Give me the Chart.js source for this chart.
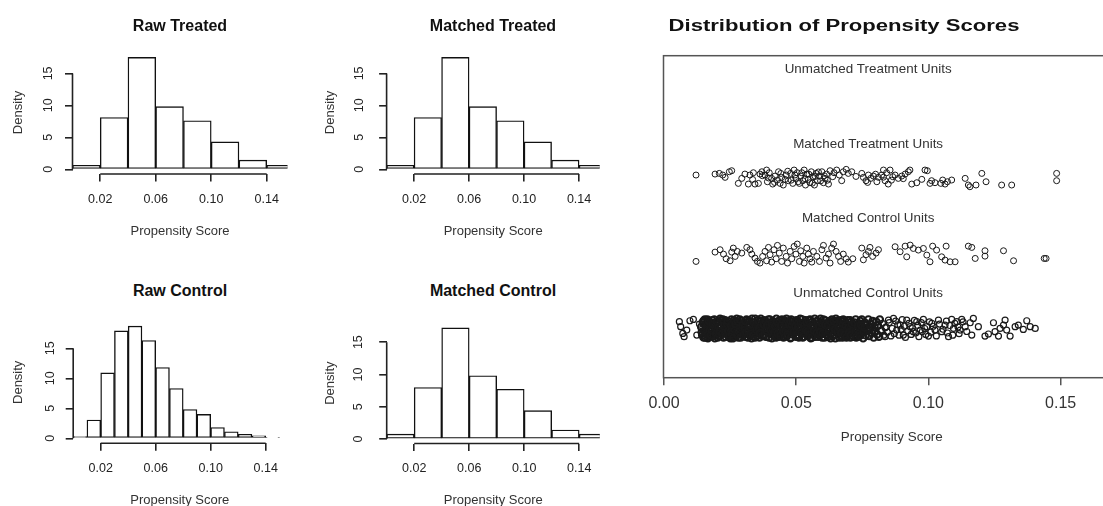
<!DOCTYPE html>
<html>
<head>
<meta charset="utf-8">
<title>Propensity score diagnostics</title>
<script src="https://cdn.jsdelivr.net/npm/chart.js@4.4.1/dist/chart.umd.min.js"></script>
<style>
  html, body { margin: 0; padding: 0; background: #fff; }
  body { position: relative; width: 1103px; height: 506px; overflow: hidden; }
  canvas { position: absolute; }
  .main { position: absolute; transform: translate(-50%, -50%); white-space: nowrap;
          font: bold 16px "Liberation Sans", Arial, sans-serif; color: #111; }
  .wide { transform: translate(-50%, -50%) scaleX(1.38); }
</style>
</head>
<body>
<canvas id="rawTreated"></canvas>
<canvas id="matchedTreated"></canvas>
<canvas id="rawControl"></canvas>
<canvas id="matchedControl"></canvas>
<canvas id="jitter"></canvas>
<div class="main" style="left:180px;top:26px">Raw Treated</div>
<div class="main" style="left:493px;top:26px">Matched Treated</div>
<div class="main" style="left:180px;top:291px">Raw Control</div>
<div class="main" style="left:493px;top:291px">Matched Control</div>
<div class="main wide" style="left:844px;top:26px">Distribution of Propensity Scores</div>
<script>
Chart.defaults.font.family = '"Liberation Sans", Arial, sans-serif';
Chart.defaults.color = '#222';

// histogram bin centres and densities
const treatedBins = [0.01, 0.03, 0.05, 0.07, 0.09, 0.11, 0.13, 0.15];
const rawTreatedDensity = [0.63, 8.1, 17.5, 9.8, 7.6, 4.3, 1.45, 0.63];
const matchedTreatedDensity = [0.63, 8.1, 17.5, 9.8, 7.6, 4.3, 1.45, 0.63];
const controlBins = [0.005, 0.015, 0.025, 0.035, 0.045, 0.055, 0.065, 0.075, 0.085, 0.095, 0.105, 0.115, 0.125, 0.135, 0.145];
const rawControlDensity = [0.3, 3.05, 10.9, 17.9, 18.7, 16.3, 11.8, 8.3, 4.8, 4.0, 1.8, 1.1, 0.67, 0.4, 0.17];
const matchedControlBins = [0.01, 0.03, 0.05, 0.07, 0.09, 0.11, 0.13, 0.15];
const matchedControlDensity = [0.77, 7.97, 17.2, 9.8, 7.7, 4.4, 1.4, 0.77];

const histXTicks = [0.02, 0.06, 0.10, 0.14];
const histYTicks = [0, 5, 10, 15];
const jitterXTicks = [0, 0.05, 0.10, 0.15];

const groupLabels = ['Unmatched Treatment Units', 'Matched Treatment Units', 'Matched Control Units', 'Unmatched Control Units'];
const groupLabelY = [4.5, 3.5, 2.5, 1.5];
const groupLabelX = 0.0772;

// jittered points: [propensity score, jittered row position]
const matchedTreated = [
  [0.0121,3.059],[0.0193,3.072],[0.0209,3.081],[0.0222,3.059],[0.0231,3.028],[0.0247,3.103],[0.0256,3.117],[0.0281,2.947],
  [0.0294,3.014],[0.0306,3.072],[0.0319,2.938],[0.0325,3.059],[0.0338,3.090],[0.0344,2.938],[0.0357,2.947],[0.0363,3.072],
  [0.0370,3.103],[0.0382,3.059],[0.0388,3.126],[0.0391,2.969],[0.0398,3.090],[0.0407,3.014],[0.0411,2.938],[0.0420,3.045],
  [0.0429,2.992],[0.0433,3.103],[0.0439,2.947],[0.0445,3.028],[0.0451,2.925],[0.0462,3.059],[0.0470,2.983],[0.0479,3.081],
  [0.0487,2.947],[0.0492,3.126],[0.0499,3.014],[0.0504,3.090],[0.0512,2.947],[0.0517,3.045],[0.0525,2.983],[0.0530,3.126],
  [0.0535,2.925],[0.0540,3.072],[0.0546,3.001],[0.0552,2.956],[0.0557,3.103],[0.0563,3.037],[0.0569,2.925],[0.0575,3.081],
  [0.0580,2.983],[0.0588,3.045],[0.0597,3.103],[0.0603,2.956],[0.0609,3.014],[0.0615,3.072],[0.0622,2.938],[0.0628,3.117],
  [0.0638,3.037],[0.0643,3.090],[0.0653,3.126],[0.0663,3.059],[0.0672,2.983],[0.0678,3.103],[0.0689,3.135],[0.0697,3.081],
  [0.0710,3.103],[0.0748,3.081],[0.0754,3.028],[0.0764,2.983],[0.0773,3.059],[0.0782,3.014],[0.0792,3.045],[0.0805,2.969],
  [0.0811,3.028],[0.0823,3.059],[0.0830,3.126],[0.0836,2.983],[0.0842,3.090],[0.0848,2.938],[0.0855,3.126],[0.0865,3.037],
  [0.0874,3.059],[0.0886,3.014],[0.0899,3.045],[0.0912,3.072],[0.0924,3.103],[0.0930,3.126],[0.0937,2.938],[0.0956,2.956],
  [0.0975,3.001],[0.0987,3.126],[0.0996,3.117],[0.1006,2.947],[0.1012,2.983],[0.1025,2.956],[0.1047,2.947],[0.1054,2.992],
  [0.1063,2.938],[0.1072,2.969],[0.1088,2.992],[0.1139,3.014],[0.1151,2.925],[0.1157,2.902],[0.1180,2.925],[0.1202,3.081],
  [0.1218,2.969],[0.1277,2.925],[0.1315,2.925],[0.1485,3.081],[0.1485,2.983],
  [0.0335,3.000],[0.0372,3.050],[0.0395,3.020],[0.0418,2.960],[0.0442,3.080],[0.0458,3.000],[0.0468,3.110],[0.0481,2.990],
  [0.0495,3.060],[0.0508,2.970],[0.0521,3.090],[0.0533,3.010],[0.0548,3.070],[0.0561,2.950],[0.0572,3.040],[0.0584,3.100],
  [0.0592,2.980],[0.0606,3.050],[0.0618,2.990],[0.0726,3.040],[0.0770,2.960],[0.0800,3.070],[0.0830,3.030],[0.0860,2.990],
  [0.0905,3.010]
];

const matchedControl = [
  [0.0121,1.900],[0.0193,2.025],[0.0212,2.057],[0.0225,1.998],[0.0235,1.936],[0.0250,1.909],[0.0256,2.025],[0.0262,2.079],
  [0.0269,1.967],[0.0277,2.034],[0.0294,2.012],[0.0313,2.088],[0.0325,2.057],[0.0332,1.998],[0.0344,1.945],[0.0353,1.900],
  [0.0363,1.878],[0.0373,1.967],[0.0382,2.034],[0.0388,1.909],[0.0395,2.088],[0.0401,1.990],[0.0407,1.891],[0.0416,2.057],
  [0.0424,1.936],[0.0429,2.115],[0.0436,2.012],[0.0445,1.900],[0.0451,2.079],[0.0462,1.967],[0.0467,1.878],[0.0477,2.034],
  [0.0483,1.936],[0.0492,2.101],[0.0499,1.998],[0.0504,2.133],[0.0512,1.900],[0.0517,2.043],[0.0525,1.967],[0.0530,1.878],
  [0.0540,2.079],[0.0546,1.998],[0.0552,1.936],[0.0559,1.891],[0.0565,2.034],[0.0578,1.967],[0.0588,1.900],[0.0597,2.057],
  [0.0603,2.115],[0.0613,1.945],[0.0622,1.998],[0.0628,1.878],[0.0634,2.079],[0.0641,2.133],[0.0651,2.034],[0.0660,1.967],
  [0.0668,1.900],[0.0678,1.998],[0.0689,1.936],[0.0697,1.891],[0.0714,1.936],[0.0748,2.079],[0.0754,1.922],[0.0764,1.990],
  [0.0773,2.034],[0.0779,2.088],[0.0789,1.967],[0.0802,2.012],[0.0811,2.057],[0.0874,2.097],[0.0893,2.030],[0.0912,2.105],
  [0.0918,1.962],[0.0931,2.119],[0.0943,2.074],[0.0962,2.052],[0.0981,2.074],[0.0994,1.985],[0.1006,1.895],[0.1016,2.105],
  [0.1031,2.052],[0.1050,1.962],[0.1063,1.918],[0.1067,2.105],[0.1082,1.895],[0.1101,1.895],[0.1151,2.105],[0.1164,2.088],
  [0.1177,1.940],[0.1214,2.043],[0.1214,1.971],[0.1284,2.043],[0.1322,1.909],[0.1438,1.940],[0.1445,1.940]
];

const unmatchedControl = [
  [0.0058,1.091],[0.0063,1.024],[0.0071,0.934],[0.0076,0.890],[0.0086,0.979],[0.0098,1.104],[0.0111,1.122],[0.0124,0.912],[0.0134,1.059],
  [0.0141,1.02],[0.0145,0.91],[0.0149,1.10],[0.0152,0.97],[0.0156,0.88],[0.0159,1.06],
  [0.0161,0.94],[0.0164,1.12],[0.0168,1.00],[0.0171,0.89],[0.0175,1.07],[0.0178,0.96],
  [0.0182,1.11],[0.0185,0.92],[0.0188,1.03],[0.0192,0.87],[0.0195,0.99],[0.0198,1.09],
  [0.0201,0.95],[0.0204,1.05],[0.0208,0.90],[0.0212,1.13],[0.0215,1.01],[0.0218,0.93],
  [0.0221,1.08],[0.0225,0.88],[0.0228,0.98],[0.0231,1.11],[0.0235,0.94],[0.0238,1.04],
  [0.0241,0.91],[0.0244,1.06],[0.0248,1.00],[0.0251,0.87],[0.0255,1.12],[0.0258,0.96],
  [0.0262,1.03],[0.0265,0.90],[0.0268,1.09],[0.0272,0.95],[0.0275,1.13],[0.0279,0.99],
  [0.0281,0.88],[0.0285,1.05],[0.0288,0.93],[0.0292,1.10],[0.0295,1.01],[0.0298,0.92],
  [0.0302,1.07],[0.0305,0.97],[0.0308,0.89],[0.0312,1.12],[0.0315,1.02],[0.0319,0.94],
  [0.0321,1.10],[0.0324,0.91],[0.0328,1.04],[0.0331,0.87],[0.0335,0.99],[0.0338,1.08],
  [0.0342,0.95],[0.0345,1.13],[0.0348,1.01],[0.0352,0.90],[0.0355,1.06],[0.0359,0.97],
  [0.0361,0.88],[0.0364,1.09],[0.0368,0.96],[0.0371,1.03],[0.0375,0.92],[0.0378,1.11],
  [0.0382,1.00],[0.0385,0.89],[0.0388,1.07],[0.0392,0.94],[0.0395,1.12],[0.0399,1.02],
  [0.0401,0.93],[0.0405,1.05],[0.0408,0.87],[0.0411,1.10],[0.0415,0.98],[0.0418,1.04],
  [0.0422,0.91],[0.0425,1.13],[0.0428,0.99],[0.0432,1.06],[0.0435,0.89],[0.0439,0.96],
  [0.0441,1.08],[0.0444,0.94],[0.0448,1.02],[0.0452,0.88],[0.0455,1.11],[0.0458,0.97],
  [0.0462,1.04],[0.0465,0.90],[0.0468,1.09],[0.0471,0.95],[0.0475,1.00],[0.0478,0.87],
  [0.0481,1.12],[0.0485,0.98],[0.0488,0.92],[0.0492,1.06],[0.0495,1.01],[0.0499,0.89],
  [0.0502,0.96],[0.0505,1.10],[0.0509,0.91],[0.0512,1.03],[0.0515,1.13],[0.0518,0.94],
  [0.0521,1.07],[0.0525,0.88],[0.0528,1.00],[0.0532,0.95],[0.0535,1.11],[0.0538,1.02],
  [0.0542,0.90],[0.0545,1.05],[0.0549,0.97],[0.0552,1.12],[0.0555,0.87],[0.0559,1.01],
  [0.0561,1.09],[0.0565,0.93],[0.0568,1.04],[0.0572,0.89],[0.0575,0.99],[0.0578,1.10],
  [0.0582,0.95],[0.0585,1.06],[0.0588,0.91],[0.0592,1.13],[0.0595,1.00],[0.0598,0.88],
  [0.0602,1.03],[0.0605,0.96],[0.0609,1.11],[0.0612,0.92],[0.0615,1.07],[0.0619,0.98],
  [0.0621,0.89],[0.0625,1.08],[0.0628,1.01],[0.0632,0.94],[0.0635,1.12],[0.0638,0.90],
  [0.0642,1.05],[0.0645,0.97],[0.0648,0.87],[0.0652,1.10],[0.0655,1.02],[0.0659,0.93],
  [0.0661,1.09],[0.0665,0.91],[0.0668,1.04],[0.0672,0.99],[0.0675,0.88],[0.0678,1.12],
  [0.0682,0.95],[0.0685,1.07],[0.0689,1.00],[0.0692,0.90],[0.0695,1.11],[0.0698,0.97],
  [0.0702,1.03],[0.0705,0.88],[0.0708,1.09],[0.0712,0.94],[0.0716,1.05],[0.0719,0.99],
  [0.0721,0.92],[0.0725,1.12],[0.0729,1.01],[0.0732,0.89],[0.0736,1.07],[0.0739,0.96],
  [0.0742,1.10],[0.0746,0.93],[0.0749,1.03],[0.0753,0.87],[0.0757,0.99],[0.0759,1.08],
  [0.0762,0.91],[0.0766,1.05],[0.0769,0.97],[0.0773,1.12],[0.0776,0.90],[0.0779,1.01],
  [0.0782,1.06],[0.0786,0.94],[0.0789,1.10],[0.0793,0.88],[0.0796,1.02],[0.0799,0.96],
  [0.0803,1.09],[0.0806,0.92],[0.0809,1.04],[0.0813,0.89],[0.0816,1.12],
  [0.0822,0.97],[0.0826,1.07],[0.0831,0.91],[0.0836,1.01],
  // second layer of the solid black core
  [0.0143,0.95],[0.0147,1.08],[0.0154,1.12],[0.0158,0.93],[0.0150,0.88],
  [0.0163,1.03],[0.0166,0.87],[0.0170,1.10],[0.0173,0.98],[0.0177,0.91],
  [0.0181,0.97],[0.0184,1.06],[0.0187,0.90],[0.0190,1.12],[0.0197,0.93],
  [0.0200,1.09],[0.0203,0.88],[0.0207,1.02],[0.0210,0.96],[0.0216,1.11],
  [0.0220,0.93],[0.0223,1.12],[0.0227,1.03],[0.0233,0.89],[0.0237,1.07],
  [0.0240,1.10],[0.0243,0.97],[0.0247,0.89],[0.0253,1.04],[0.0257,0.92],
  [0.0261,0.87],[0.0264,1.11],[0.0267,0.98],[0.0270,1.06],[0.0277,0.91],
  [0.0280,1.09],[0.0283,0.96],[0.0287,1.12],[0.0290,0.88],[0.0297,1.04],
  [0.0300,0.91],[0.0304,1.02],[0.0307,1.10],[0.0311,0.95],[0.0317,0.88],
  [0.0320,0.97],[0.0323,1.06],[0.0327,0.93],[0.0333,1.13],[0.0337,0.90],
  [0.0340,1.08],[0.0344,0.88],[0.0347,1.04],[0.0350,0.98],[0.0357,1.11],
  [0.0360,1.01],[0.0363,0.94],[0.0366,1.13],[0.0373,0.90],[0.0377,1.05],
  [0.0380,0.92],[0.0384,1.10],[0.0387,0.97],[0.0390,1.04],[0.0397,0.88],
  [0.0400,1.12],[0.0403,0.98],[0.0407,1.07],[0.0413,0.91],[0.0417,0.95],
  [0.0420,1.03],[0.0424,0.88],[0.0427,1.09],[0.0430,0.93],[0.0437,1.11],
  [0.0440,0.90],[0.0443,1.04],[0.0446,1.12],[0.0450,0.96],[0.0457,0.89],
  [0.0460,0.97],[0.0463,1.13],[0.0467,0.92],[0.0473,1.06],[0.0477,1.10],
  [0.0480,0.88],[0.0483,1.05],[0.0487,1.09],[0.0490,0.95],[0.0497,1.03],
  [0.0500,1.11],[0.0504,0.92],[0.0507,1.02],[0.0510,0.88],[0.0517,1.07],
  [0.0520,0.94],[0.0523,1.12],[0.0527,0.89],[0.0530,1.04],[0.0537,0.97],
  [0.0540,1.08],[0.0543,0.96],[0.0547,1.11],[0.0550,0.92],[0.0557,1.03],
  [0.0560,0.88],[0.0563,1.02],[0.0567,0.97],[0.0570,1.13],[0.0577,0.94],
  [0.0580,1.10],[0.0583,0.89],[0.0587,1.03],[0.0590,0.96],[0.0597,1.07],
  [0.0600,0.93],[0.0603,1.12],[0.0607,0.88],[0.0610,1.05],[0.0617,0.91],
  [0.0620,1.05],[0.0623,0.97],[0.0627,1.10],[0.0630,0.87],[0.0637,1.03],
  [0.0640,0.91],[0.0643,1.09],[0.0647,0.99],[0.0650,1.13],[0.0657,0.96],
  [0.0660,1.02],[0.0663,0.88],[0.0667,1.11],[0.0670,0.94],[0.0677,1.06],
  [0.0680,1.10],[0.0684,0.92],[0.0687,1.04],[0.0690,0.88],[0.0697,1.01],
  [0.0700,0.95],[0.0704,1.11],[0.0707,0.91],[0.0710,1.06],[0.0717,0.89],
  [0.0720,1.08],[0.0724,0.96],[0.0727,0.88],[0.0734,1.03],[0.0737,0.93],
  [0.0740,0.90],[0.0744,1.05],[0.0748,1.12],[0.0755,0.95],[0.0758,1.01],
  // thinner tail above 0.083
  [0.0836,0.890],[0.0849,1.113],[0.0868,1.135],[0.0880,0.979],[0.0893,1.046],[0.0905,0.912],[0.0918,1.113],[0.0931,1.024],
  [0.0943,0.957],[0.0956,1.091],[0.0969,0.979],[0.0981,1.122],[0.0994,1.024],[0.1000,0.899],[0.1013,1.068],[0.1025,0.979],
  [0.1038,1.113],[0.1050,0.957],[0.1063,1.046],[0.1076,0.890],[0.1088,1.122],[0.1095,1.001],[0.1107,1.091],[0.1120,0.979],
  [0.1126,1.122],[0.1139,1.024],[0.1158,1.077],[0.1164,0.912],[0.1170,1.135],[0.1189,1.024],[0.1214,0.899],[0.1227,0.926],
  [0.1246,1.077],[0.1252,0.957],[0.1265,0.899],[0.1271,1.001],[0.1284,1.046],[0.1290,1.113],[0.1296,0.979],[0.1309,0.899],
  [0.1328,1.024],[0.1340,1.046],[0.1359,0.988],[0.1372,1.104],[0.1385,1.024],[0.1404,1.001],
  [0.0840,1.02],[0.0845,0.95],[0.0852,1.08],[0.0858,0.90],[0.0863,1.00],[0.0871,0.93],[0.0876,1.10],[0.0884,1.05],
  [0.0889,0.91],[0.0897,0.99],[0.0901,1.12],[0.0909,1.03],[0.0913,0.88],[0.0922,0.97],[0.0926,1.07],[0.0935,0.92],
  [0.0939,1.01],[0.0947,1.11],[0.0952,0.94],[0.0960,1.04],[0.0964,0.89],[0.0973,1.08],[0.0977,0.96],[0.0986,1.00],
  [0.0990,0.92],[0.1004,1.09],[0.1009,0.95],[0.1018,1.03],[0.1030,0.90],[0.1042,1.06],[0.1055,0.99],[0.1068,1.10],
  [0.1072,0.94],[0.1081,1.04],[0.1092,0.91],[0.1100,1.07],[0.1112,1.02],[0.1116,0.93],[0.1131,1.09],[0.1145,0.96]
];

// base-R look: axis lines only between first and last tick, or a full box
const rStyle = {
  id: 'rStyle',
  afterDatasetsDraw(chart, args, opts) {
    const ctx = chart.ctx, a = chart.chartArea, xs = chart.scales.x, ys = chart.scales.y;
    ctx.save();
    ctx.strokeStyle = opts.color;
    ctx.lineWidth = opts.width;
    if (opts.box) {
      ctx.strokeRect(a.left, a.top, a.right - a.left, a.bottom - a.top);
    } else {
      const xt = xs.ticks, yt = ys.ticks;
      ctx.beginPath();
      ctx.moveTo(xs.getPixelForValue(xt[0].value), a.bottom);
      ctx.lineTo(xs.getPixelForValue(xt[xt.length - 1].value), a.bottom);
      ctx.moveTo(a.left, ys.getPixelForValue(yt[0].value));
      ctx.lineTo(a.left, ys.getPixelForValue(yt[yt.length - 1].value));
      ctx.stroke();
    }
    if (opts.labels) {
      ctx.fillStyle = '#333';
      ctx.font = opts.labelFont;
      ctx.textAlign = 'center';
      ctx.textBaseline = 'middle';
      opts.labels.forEach((t, i) => {
        ctx.fillText(t, xs.getPixelForValue(opts.labelX), ys.getPixelForValue(opts.labelY[i]) + 2);
      });
    }
    ctx.restore();
  }
};

function histogram(id, bins, density, area, yRange, txt) {
  const cv = document.getElementById(id);
  const L = Math.floor(area.left - 72), T = Math.floor(area.top - 20);
  const W = Math.ceil(area.right + 12 - L), H = Math.ceil(area.bottom + 70 - T);
  cv.width = W; cv.height = H;
  cv.style.left = L + 'px'; cv.style.top = T + 'px';
  const yw = area.left - L, xh = 70;
  return new Chart(cv, {
    type: 'bar',
    data: {
      datasets: [{
        data: bins.map((b, i) => ({ x: b, y: density[i] })),
        backgroundColor: '#fff',
        borderColor: '#111',
        borderWidth: 1.4,
        borderSkipped: false,
        barPercentage: 1,
        categoryPercentage: 1,
        clip: 0
      }]
    },
    options: {
      responsive: false,
      animation: false,
      events: [],
      layout: { padding: { left: 0, top: area.top - T, right: L + W - area.right, bottom: T + H - area.bottom - xh } },
      plugins: { legend: { display: false }, tooltip: { enabled: false }, rStyle: { color: '#222', width: 1.6 } },
      scales: {
        x: {
          type: 'linear', min: 0, max: 0.155, offset: false,
          afterFit: s => { s.height = xh; },
          afterBuildTicks: s => { s.ticks = histXTicks.map(v => ({ value: v })); },
          grid: { offset: false, drawOnChartArea: false, tickLength: 7.5, color: '#222', lineWidth: 1.6 },
          border: { display: false },
          ticks: { autoSkip: false, minRotation: 0, maxRotation: 0, padding: txt.xTickY - area.bottom - 15,
                   font: { size: 12.5 }, color: '#222', callback: v => v.toFixed(2) },
          title: { display: true, text: 'Propensity Score', color: '#333', font: { size: 13 },
                   padding: { top: 0, bottom: area.bottom + xh - 7.8 - txt.xTitleY } }
        },
        y: {
          type: 'linear', min: yRange[0], max: yRange[1],
          afterFit: s => { s.width = yw; },
          afterBuildTicks: s => { s.ticks = histYTicks.map(v => ({ value: v })); },
          grid: { drawOnChartArea: false, tickLength: 7.5, color: '#222', lineWidth: 1.6 },
          border: { display: false },
          ticks: { autoSkip: false, crossAlign: 'center', minRotation: 90, maxRotation: 90,
                   padding: area.left - 7.5 - 6.95 - txt.yTickX, font: { size: 12.5 }, color: '#222' },
          title: { display: true, text: 'Density', color: '#333', font: { size: 13 },
                   padding: { top: txt.yTitleX - L - 7.8, bottom: 0 } }
        }
      }
    },
    plugins: [rStyle]
  });
}

histogram('rawTreated', treatedBins, rawTreatedDensity,
  { left: 72.5, top: 51, right: 287.5, bottom: 174 }, [-0.73, 18.5],
  { xTickY: 200, xTitleY: 231.7, yTickX: 49, yTitleX: 18.3 });
histogram('matchedTreated', treatedBins, matchedTreatedDensity,
  { left: 386.6, top: 51, right: 599.7, bottom: 174 }, [-0.73, 18.5],
  { xTickY: 200, xTitleY: 231.7, yTickX: 360, yTitleX: 330 });
histogram('rawControl', controlBins, rawControlDensity,
  { left: 73.2, top: 321.3, right: 286.3, bottom: 443.3 }, [-0.83, 19.5],
  { xTickY: 469, xTitleY: 500, yTickX: 51, yTitleX: 18.3 });
histogram('matchedControl', matchedControlBins, matchedControlDensity,
  { left: 386.7, top: 322.2, right: 599.8, bottom: 443.5 }, [-0.69, 18],
  { xTickY: 469, xTitleY: 500, yTickX: 359, yTitleX: 330 });

// jitter plot of the propensity scores
(function () {
  const cv = document.getElementById('jitter');
  const L = 620, T = 35, W = 510, H = 413;
  cv.width = W; cv.height = H;
  cv.style.left = L + 'px'; cv.style.top = T + 'px';
  const area = { left: 663.5, top: 55.7, right: 1120, bottom: 377.7 };
  const pts = arr => arr.map(p => ({ x: p[0], y: p[1] }));
  // overlapping rings in the crowded core read as solid black, as in the original
  const inCore = c => c.raw && c.raw.x > 0.0138 && c.raw.x < 0.0826;
  new Chart(cv, {
    type: 'scatter',
    data: {
      datasets: [
        { data: pts(matchedTreated) },
        { data: pts(matchedControl) },
        { data: pts(unmatchedControl),
          pointBorderWidth: c => inCore(c) ? 2.2 : 1.2,
          pointRadius: c => inCore(c) ? 3.3 : 3 }
      ]
    },
    options: {
      responsive: false,
      animation: false,
      events: [],
      layout: { padding: { left: area.left - L, top: area.top - T, right: L + W - area.right, bottom: T + H - area.bottom - 70 } },
      elements: { point: { pointStyle: 'circle', radius: 3, borderWidth: 1, borderColor: '#1a1a1a', backgroundColor: 'rgba(0,0,0,0)' } },
      plugins: {
        legend: { display: false }, tooltip: { enabled: false },
        rStyle: { box: true, color: '#555', width: 1.5, labels: groupLabels, labelX: groupLabelX, labelY: groupLabelY,
                  labelFont: '13.4px "Liberation Sans", Arial, sans-serif' }
      },
      scales: {
        x: {
          type: 'linear', min: -0.0002, max: (area.right - 664) / 2644,
          afterFit: s => { s.height = 70; },
          afterBuildTicks: s => { s.ticks = jitterXTicks.map(v => ({ value: v })); },
          grid: { drawOnChartArea: false, tickLength: 7.5, color: '#555', lineWidth: 1.5 },
          border: { display: false },
          ticks: { autoSkip: false, minRotation: 0, maxRotation: 0, padding: 404 - area.bottom - 7.5 - 9.6,
                   font: { size: 16 }, color: '#333', callback: v => v.toFixed(2) },
          title: { display: true, text: 'Propensity Score', color: '#333', font: { size: 13.4 },
                   padding: { top: 0, bottom: area.bottom + 70 - 8 - 437.3 } }
        },
        y: { display: false, min: 0.34, max: 4.66 }
      }
    },
    plugins: [rStyle]
  });
})();
</script>
</body>
</html>
